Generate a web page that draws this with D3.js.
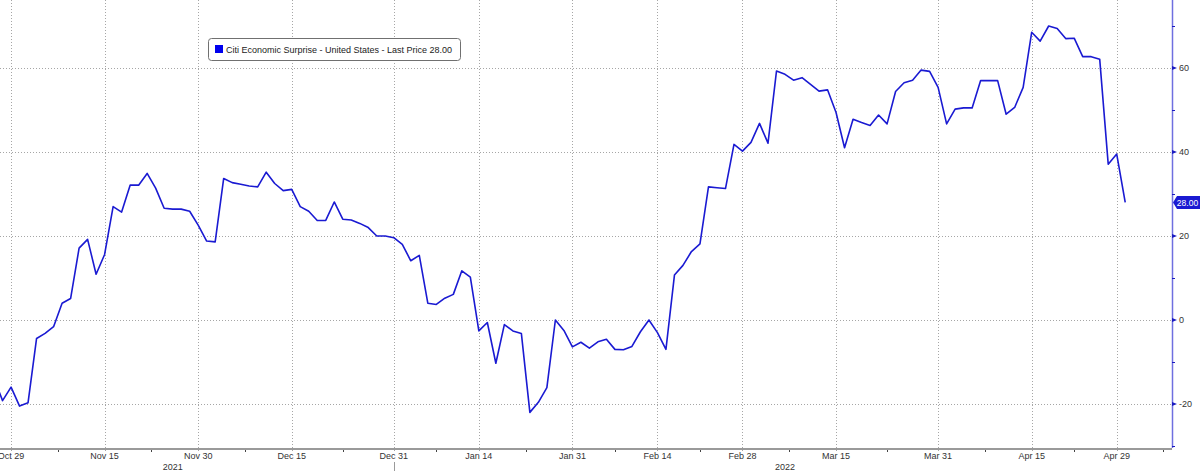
<!DOCTYPE html>
<html>
<head>
<meta charset="utf-8">
<script src="https://cdn.jsdelivr.net/npm/d3@7"></script>
<style>
  html, body { margin: 0; padding: 0; background: #fff; }
  svg { display: block; }
  text { font-family: "Liberation Sans", Arial, sans-serif; }
</style>
</head>
<body>
<svg id="chart" width="1200" height="471"></svg>
<script>
// ---------------- DATA ----------------
const seriesName = "Citi Economic Surprise - United States";
const lastPrice = 28.00;
const startDate = "2021-10-27";          // first weekday of the series
// Daily (weekday) values, Oct 27 2021 .. May 2 2022
const surpriseValues = [
  -14.0, -19.2, -16.0, -20.5, -19.7, -4.4, -3.2, -1.6, 4.0, 5.1,
  17.1, 19.2, 10.9, 15.6, 27.0, 25.7, 32.1, 32.1, 34.9, 31.4,
  26.6, 26.4, 26.4, 25.9, 22.6, 18.8, 18.6, 33.7, 32.7, 32.3,
  31.9, 31.7, 35.2, 32.5, 30.8, 31.1, 27.0, 25.9, 23.7, 23.7,
  28.1, 24.0, 23.8, 23.0, 22.0, 20.0, 20.0, 19.6, 18.0, 14.1,
  15.4, 4.0, 3.7, 5.2, 6.1, 11.7, 10.2, -2.6, -0.6, -10.3,
  -1.1, -2.6, -3.2, -22.0, -19.6, -16.1, 0.0, -2.5, -6.4, -5.3,
  -6.7, -5.2, -4.6, -7.0, -7.1, -6.3, -2.8, 0.0, -3.0, -7.0,
  10.7, 13.0, 16.3, 18.1, 31.7, 31.5, 31.3, 41.8, 40.2, 42.3,
  46.8, 42.1, 59.3, 58.5, 57.1, 57.7, 56.1, 54.5, 54.8, 49.4,
  41.0, 47.8, 47.0, 46.3, 48.8, 46.7, 54.4, 56.5, 57.1, 59.5,
  59.2, 55.4, 46.7, 50.2, 50.5, 50.5, 57.0, 57.0, 57.0, 49.0,
  50.6, 55.4, 68.5, 66.4, 70.0, 69.4, 67.0, 67.1, 62.7, 62.7,
  62.1, 37.1, 39.5, 28.0
];
const xTickDates  = ["2021-10-29","2021-11-15","2021-11-30","2021-12-15","2021-12-31","2022-01-14",
                     "2022-01-31","2022-02-14","2022-02-28","2022-03-15","2022-03-31","2022-04-15","2022-04-29"];
const xTickLabels = ["Oct 29","Nov 15","Nov 30","Dec 15","Dec 31","Jan 14",
                     "Jan 31","Feb 14","Feb 28","Mar 15","Mar 31","Apr 15","Apr 29"];
const yearLabels  = ["2021", "2022"];
const yearAnchorDates = ["2021-11-25", "2022-03-07"];
const yearBreakDate = "2021-12-31";
const yMajorTicks = [60, 40, 20, 0, -20];
const yMinorTicks = [70, 50, 30, 10, -10, -30];

// ---------------- HELPERS ----------------
const parse = d3.utcParse("%Y-%m-%d");
const origin = parse("2021-10-29");
function weekdayIndex(date) {
  const dayMs = 86400000;
  let n = 0;
  const step = date >= origin ? 1 : -1;
  let d = new Date(origin.getTime());
  while ((step > 0 && d < date) || (step < 0 && d > date)) {
    d = new Date(d.getTime() + step * dayMs);
    const wd = d.getUTCDay();
    if (wd !== 0 && wd !== 6) n += step;
  }
  return n;
}
const seriesDates = [];
{
  let d = parse(startDate);
  while (seriesDates.length < surpriseValues.length) {
    const wd = d.getUTCDay();
    if (wd !== 0 && wd !== 6) seriesDates.push(new Date(d.getTime()));
    d = new Date(d.getTime() + 86400000);
  }
}
const data = surpriseValues.map((v, i) => ({ date: seriesDates[i], idx: weekdayIndex(seriesDates[i]), value: v }));

// ---------------- LAYOUT ----------------
const W = 1200, H = 471;
const plotRight = 1172, plotBottom = 449;
const svg = d3.select("#chart");

const x = d3.scaleLinear().domain([-1.3, 136.5]).range([0, plotRight]);
const y = d3.scaleLinear().domain([-30.48, 76.19]).range([448, 0]);

const gridColor = "#a6a6a6";
const lineColor = "#1a1ad2";
const axisBlue = "#6f6fe0";

svg.append("defs").append("clipPath").attr("id", "plotClip")
  .append("rect").attr("x", 0).attr("y", 0).attr("width", plotRight).attr("height", plotBottom);

// horizontal grid
svg.append("g").selectAll("line").data(yMajorTicks).join("line")
  .attr("x1", 0).attr("x2", plotRight)
  .attr("y1", d => Math.round(y(d)) + 0.5).attr("y2", d => Math.round(y(d)) + 0.5)
  .attr("stroke", gridColor).attr("stroke-width", 1).attr("stroke-dasharray", "1,2");

// vertical grid
const xTicks = xTickDates.map((s, i) => ({ idx: weekdayIndex(parse(s)), label: xTickLabels[i] }));
svg.append("g").selectAll("line").data(xTicks).join("line")
  .attr("x1", d => Math.round(x(d.idx)) + 0.5).attr("x2", d => Math.round(x(d.idx)) + 0.5)
  .attr("y1", 0).attr("y2", plotBottom + 2)
  .attr("stroke", gridColor).attr("stroke-width", 1).attr("stroke-dasharray", "1,2");

// bottom axis line
svg.append("line").attr("x1", 0).attr("x2", plotRight).attr("y1", plotBottom).attr("y2", plotBottom)
  .attr("stroke", "#9a9a9a").attr("stroke-width", 2);

// minor x ticks (midpoints between labelled ticks)
const minorIdx = [];
for (let i = 0; i < xTicks.length; i++) {
  const a = xTicks[i].idx;
  const b = i + 1 < xTicks.length ? xTicks[i + 1].idx : a + 11;
  minorIdx.push((a + b) / 2);
}
svg.append("g").selectAll("line").data(minorIdx).join("line")
  .attr("x1", d => Math.round(x(d)) + 0.5).attr("x2", d => Math.round(x(d)) + 0.5)
  .attr("y1", plotBottom + 1).attr("y2", plotBottom + 3)
  .attr("stroke", "#444").attr("stroke-width", 1);

// x tick labels
svg.append("g").selectAll("text").data(xTicks).join("text")
  .attr("x", d => x(d.idx)).attr("y", 459)
  .attr("text-anchor", "middle").attr("font-size", 9).attr("fill", "#333")
  .text(d => d.label);

// year break line (below the tick label)
{
  const bx = Math.round(x(weekdayIndex(parse(yearBreakDate)))) + 0.5;
  svg.append("line").attr("x1", bx).attr("x2", bx).attr("y1", 462).attr("y2", H)
    .attr("stroke", "#9a9a9a").attr("stroke-width", 1);
}

// year labels
svg.append("g").selectAll("text").data(yearLabels).join("text")
  .attr("x", (d, i) => x(weekdayIndex(parse(yearAnchorDates[i]))))
  .attr("y", 470)
  .attr("text-anchor", "middle").attr("font-size", 9).attr("fill", "#333")
  .text(d => d);

// right axis
svg.append("line").attr("x1", plotRight + 0.5).attr("x2", plotRight + 0.5).attr("y1", 0).attr("y2", 448)
  .attr("stroke", axisBlue).attr("stroke-width", 1.5);
svg.append("g").selectAll("path").data(yMajorTicks).join("path")
  .attr("d", d => { const yy = y(d); return `M${plotRight},${yy - 2}L${plotRight + 5},${yy}L${plotRight},${yy + 2}Z`; })
  .attr("fill", "#1a1ac0");
svg.append("g").selectAll("line").data(yMinorTicks).join("line")
  .attr("x1", plotRight).attr("x2", plotRight + 3)
  .attr("y1", d => Math.round(y(d)) + 0.5).attr("y2", d => Math.round(y(d)) + 0.5)
  .attr("stroke", "#1a1ac0").attr("stroke-width", 1);
svg.append("g").selectAll("text").data(yMajorTicks).join("text")
  .attr("x", plotRight + 7).attr("y", d => y(d) + 3.5)
  .attr("font-size", 9).attr("fill", "#333")
  .text(d => d);

// series line
const line = d3.line().x(d => x(d.idx)).y(d => y(d.value));
svg.append("path").datum(data)
  .attr("clip-path", "url(#plotClip)")
  .attr("d", line).attr("fill", "none")
  .attr("stroke", lineColor).attr("stroke-width", 1.6).attr("stroke-linejoin", "round");

// last price tag
{
  const yy = y(lastPrice);
  const g = svg.append("g");
  g.append("path")
    .attr("d", `M${plotRight + 1},${yy} L${plotRight + 5},${yy - 6.5} L${W},${yy - 6.5} L${W},${yy + 6.5} L${plotRight + 5},${yy + 6.5} Z`)
    .attr("fill", "#1a1ad2");
  g.append("text").attr("x", 1187.5).attr("y", yy + 3.2)
    .attr("text-anchor", "middle").attr("font-size", 8.5).attr("fill", "#fff")
    .text(d3.format(".2f")(lastPrice));
}

// legend
{
  const g = svg.append("g");
  g.append("rect").attr("x", 208.5).attr("y", 38.5).attr("width", 252).attr("height", 22).attr("rx", 3)
    .attr("fill", "#fff").attr("stroke", "#707070").attr("stroke-width", 1);
  g.append("rect").attr("x", 215).attr("y", 45).attr("width", 8).attr("height", 8).attr("fill", "#0000ee");
  g.append("text").attr("x", 226).attr("y", 52.5).attr("font-size", 9).attr("fill", "#222")
    .text(`${seriesName} - Last Price ${d3.format(".2f")(lastPrice)}`);
}
</script>
</body>
</html>
